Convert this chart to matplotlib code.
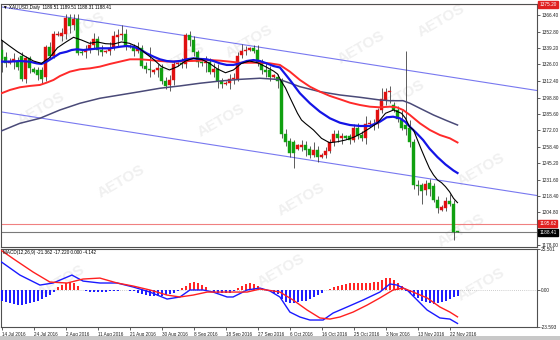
import matplotlib
matplotlib.use('Agg')
import matplotlib.pyplot as plt
import numpy as np

# ---------------- data ----------------
date_labels = ['14 Jul 2016', '24 Jul 2016', '2 Aug 2016', '11 Aug 2016', '21 Aug 2016',
               '30 Aug 2016', '8 Sep 2016', '18 Sep 2016', '27 Sep 2016', '6 Oct 2016',
               '16 Oct 2016', '25 Oct 2016', '3 Nov 2016', '13 Nov 2016', '22 Nov 2016']
label_bars = [0, 8, 16, 24, 32, 40, 48, 56, 64, 72, 80, 88, 96, 104, 112]

opens = [1338, 1332, 1327, 1329, 1329, 1333, 1314, 1331, 1322, 1321, 1321, 1316, 1340, 1333, 1350,
         1349, 1351, 1364, 1358, 1363, 1336, 1336, 1338, 1342, 1347, 1338, 1336, 1337, 1340, 1348,
         1350, 1351, 1341, 1340, 1337, 1339, 1325, 1322, 1320, 1321, 1323, 1312, 1309, 1313, 1326,
         1327, 1326, 1350, 1346, 1336, 1328, 1327, 1328, 1320, 1322, 1312, 1310, 1311, 1314, 1314,
         1334, 1337, 1338, 1339, 1338, 1327, 1321, 1321, 1316, 1316, 1313, 1269, 1263, 1262, 1257,
         1258, 1260, 1257, 1252, 1256, 1250, 1252, 1255, 1262, 1269, 1266, 1267, 1267, 1264, 1274,
         1268, 1266, 1277, 1276, 1277, 1289, 1297, 1303, 1293, 1289, 1280, 1276, 1274, 1262, 1227,
         1227, 1223, 1229, 1226, 1215, 1207, 1208, 1214, 1212, 1189.51]
highs = [1346, 1336, 1331, 1335, 1332, 1336, 1333, 1333, 1324, 1324, 1324, 1342, 1344, 1353, 1353,
         1356, 1367, 1367, 1367, 1367, 1338, 1342, 1345, 1352, 1349, 1342, 1338, 1344, 1353, 1355,
         1358, 1355, 1343, 1343, 1344, 1342, 1328, 1340, 1322, 1326, 1326, 1316, 1317, 1329, 1328,
         1331, 1352, 1353, 1349, 1338, 1329, 1333, 1331, 1327, 1326, 1315, 1312, 1318, 1319, 1336,
         1343, 1341, 1340, 1342, 1342, 1330, 1328, 1325, 1318, 1318, 1315, 1273, 1266, 1264, 1261,
         1264, 1263, 1259, 1262, 1259, 1253, 1258, 1265, 1272, 1272, 1270, 1268, 1269, 1277, 1278,
         1271, 1284, 1280, 1281, 1290, 1307, 1307, 1308, 1295, 1292, 1289, 1337, 1280, 1265, 1231,
         1229, 1231, 1232, 1229, 1218, 1211, 1217, 1220, 1215, 1189.51]
lows = [1320, 1324, 1326, 1322, 1321, 1312, 1311, 1319, 1319, 1313, 1310, 1312, 1330, 1331, 1349,
        1345, 1347, 1352, 1354, 1334, 1334, 1331, 1335, 1339, 1334, 1333, 1335, 1334, 1338, 1340,
        1346, 1338, 1339, 1333, 1335, 1323, 1319, 1316, 1318, 1316, 1310, 1306, 1304, 1309, 1325,
        1323, 1323, 1341, 1333, 1324, 1325, 1320, 1318, 1316, 1307, 1307, 1309, 1306, 1310, 1312,
        1331, 1334, 1337, 1335, 1325, 1318, 1316, 1312, 1315, 1307, 1266, 1259, 1250, 1241, 1256,
        1255, 1251, 1249, 1250, 1246, 1249, 1249, 1253, 1259, 1262, 1261, 1265, 1261, 1262, 1265,
        1263, 1261, 1275, 1272, 1274, 1286, 1293, 1294, 1287, 1279, 1272, 1268, 1258, 1224, 1219,
        1212, 1219, 1218, 1213, 1204, 1206, 1206, 1210, 1182, 1188.31]
closes = [1330, 1327, 1329, 1330, 1324, 1314, 1331, 1323, 1320, 1317, 1314, 1340, 1333, 1351, 1351,
          1352, 1364, 1357, 1363, 1335, 1335, 1338, 1342, 1347, 1338, 1336, 1337, 1339, 1349, 1350,
          1351, 1341, 1340, 1337, 1339, 1325, 1322, 1321, 1321, 1323, 1312, 1308, 1313, 1326, 1327,
          1326, 1350, 1346, 1336, 1328, 1327, 1328, 1320, 1322, 1312, 1310, 1311, 1314, 1315, 1333,
          1337, 1338, 1339, 1337, 1327, 1321, 1320, 1316, 1317, 1312, 1269, 1262, 1253, 1253, 1260,
          1260, 1256, 1252, 1256, 1250, 1252, 1255, 1262, 1269, 1266, 1267, 1266, 1264, 1274, 1267,
          1266, 1277, 1278, 1277, 1289, 1298, 1303, 1304, 1289, 1281, 1274, 1273, 1262, 1227, 1226,
          1222, 1228, 1224, 1215, 1208, 1209, 1214, 1212, 1188.6, 1188.41]

black_x = [0, 2, 4, 6, 8, 10, 12, 14, 16, 18, 20, 22, 24, 26, 28, 30, 32, 34, 36, 38, 40, 42, 44, 46,
           48, 50, 52, 54, 56, 58, 60, 62, 64, 66, 68, 69, 70, 71, 72, 73, 74, 75, 76, 77, 78, 80,
           82, 84, 86, 88, 90, 92, 94, 96, 98, 100, 101, 102, 103, 104, 105, 106, 107, 108, 109,
           110, 111, 112, 113, 114]
black_v = [1345.9, 1341.0, 1336.3, 1332.3, 1328.7, 1326.8, 1331.4, 1339.6, 1344.0, 1348.1, 1345.9,
           1343.2, 1344.3, 1342.9, 1342.6, 1344.3, 1343.2, 1340.4, 1335.0, 1330.1, 1324.1, 1321.4,
           1324.1, 1328.7, 1330.9, 1330.1, 1326.8, 1322.2, 1319.1, 1321.4, 1326.8, 1328.7, 1327.3,
           1324.1, 1320.5, 1318.1, 1311.8, 1306.6, 1299.5, 1292.7, 1285.9, 1280.4, 1277.5, 1274.9,
           1272.2, 1265.4, 1261.8, 1262.6, 1264.0, 1266.2, 1269.5, 1273.6, 1278.0, 1285.9, 1288.6,
           1285.9, 1281.8, 1274.9, 1272.2, 1264.0, 1255.9, 1248.2, 1240.8, 1235.4, 1231.3, 1229.1,
           1225.8, 1221.7, 1216.3, 1212.7]

blue_x = [0, 2, 4.6, 7, 8.8, 10, 11.3, 13, 14.6, 16.3, 17.5, 18.8, 20.5, 22.1, 24.6, 27.1, 29.6,
          31.3, 33, 34.6, 36.3, 38, 39.6, 41.3, 43, 44.6, 46.3, 48, 49.6, 51.3, 53, 54.6, 56.3, 58,
          59.6, 61.3, 63, 64.6, 66.3, 68, 69.6, 72.1, 74.6, 77.1, 79.6, 82.1, 84.6, 87.1, 89.6,
          92.1, 94.6, 96.3, 97.9, 99.6, 100.9, 102.1, 103.8, 105.4, 107, 109, 111, 113, 114]
blue_v = [1328.2, 1328.2, 1328.7, 1328.2, 1326.8, 1326.3, 1328.2, 1331.7, 1335.0, 1336.3, 1337.7,
          1338.3, 1337.7, 1338.3, 1339.1, 1339.1, 1340.4, 1341.0, 1340.4, 1338.3, 1335.0, 1332.3,
          1330.1, 1328.7, 1328.2, 1328.7, 1330.1, 1330.9, 1330.4, 1330.1, 1328.7, 1326.8, 1325.5,
          1325.5, 1326.8, 1328.7, 1329.5, 1328.7, 1326.8, 1324.6, 1323.4, 1313.2, 1302.3, 1294.1,
          1287.2, 1281.8, 1278.2, 1276.3, 1275.5, 1275.5, 1279.0, 1282.6, 1283.1, 1281.8, 1279.0,
          1274.9, 1269.5, 1264.0, 1257.0, 1250.0, 1244.0, 1239.0, 1237.0]

red_x = [0, 2.1, 4.6, 7.1, 9.6, 11.3, 13, 14.6, 17.1, 19.6, 22.1, 24.6, 27.1, 29.6, 32.1, 34.6,
         37.1, 39.6, 42.1, 44.6, 47.1, 49.6, 52.1, 54.6, 57.1, 59.6, 62.1, 64.6, 67.1, 69.6, 72.1,
         74.6, 77.1, 79.6, 82.1, 84.6, 87.1, 89.6, 92.1, 94.6, 97.1, 98.8, 100.4, 102.1, 104.6,
         107.1, 109.6, 112.1, 114]
red_v = [1302.3, 1305.0, 1307.2, 1308.3, 1309.1, 1311.0, 1313.2, 1316.4, 1320.0, 1321.9, 1322.7,
         1324.1, 1326.3, 1328.2, 1330.1, 1330.1, 1329.5, 1328.7, 1328.2, 1328.5, 1328.7, 1329.0,
         1329.5, 1329.0, 1328.2, 1327.3, 1327.3, 1327.3, 1326.8, 1325.5, 1320.0, 1313.2, 1307.7,
         1303.6, 1300.1, 1297.4, 1294.6, 1292.7, 1291.3, 1290.8, 1291.3, 1290.8, 1288.6, 1284.5,
         1277.7, 1272.2, 1268.1, 1265.4, 1262.0]

purple_x = [0, 4.6, 9.6, 14.6, 19.6, 24.6, 29.6, 34.6, 39.6, 44.6, 49.6, 54.6, 59.6, 64.6, 69.6,
            74.6, 79.6, 84.6, 89.6, 94.6, 97.1, 100.4, 102.1, 104.6, 108, 111.3, 114]
purple_v = [1271.5, 1277.7, 1281.8, 1288.6, 1294.1, 1298.2, 1300.9, 1303.6, 1306.4, 1308.3, 1310.5,
            1312.3, 1313.7, 1314.6, 1313.5, 1307.7, 1303.6, 1300.9, 1299.0, 1296.8, 1296.2, 1296.2,
            1294.1, 1290.0, 1284.5, 1279.9, 1276.3]

channel_bars = [0, 133]
channel_upper = [1373.0, 1305.0]
channel_lower = [1287.0, 1219.0]

level_red = 1195.62
level_last = 1188.41
level_top = 1375.20

price_ticks = [1366.40, 1352.80, 1339.20, 1326.00, 1312.40, 1298.80, 1285.60, 1272.00,
               1258.40, 1245.20, 1231.60, 1218.40, 1204.80, 1178.00]

macd_x = [0, 4.6, 9.6, 12.9, 17.6, 20.4, 24.6, 28.9, 32.9, 37.1, 41.4, 44.6, 47.1, 50.4, 52.9,
          56.4, 57.9, 61.4, 64.6, 67.1, 69.6, 72.1, 74.6, 77.1, 80.4, 82.9, 86.4, 90.4, 94.6, 97.1,
          98.9, 101.4, 103.9, 106.4, 109.6, 112.1, 114]
macd_v = [17.3, 9.1, 2.8, 4.1, 9.1, 5.3, 4.1, 4.1, 1.6, -1.6, -6.0, -4.7, -0.3, -0.3, -1.6, -4.7,
          -4.7, -0.3, 0.9, -0.9, -4.7, -14.2, -17.3, -19.2, -19.2, -14.8, -11.0, -6.6, -1.6, 3.5,
          2.8, -0.3, -6.6, -12.9, -17.9, -18.6, -21.362]
signal_x = [0, 3.4, 7.9, 12.1, 16.4, 20.4, 24.6, 28.9, 32.9, 37.1, 41.4, 44.6, 47.9, 51.4, 54.6,
            57.9, 61.4, 64.6, 67.9, 69.6, 72.9, 76.4, 79.6, 82.1, 84.6, 87.9, 91.4, 94.6, 97.9,
            100.4, 102.9, 106.4, 109.6, 112.1, 114]
signal_v = [24.5, 18.6, 11.0, 4.7, 4.1, 6.6, 7.2, 4.1, 2.2, -0.3, -3.5, -4.7, -3.5, -1.6, -1.6,
            -1.6, -1.6, 0.3, -0.9, -1.6, -6.6, -12.9, -17.9, -18.6, -17.3, -14.2, -9.8, -5.3, -0.3,
            0.9, -1.6, -5.3, -11.0, -14.2, -17.220]
hist = [-7.5, -8, -8.5, -9, -9.5, -9.5, -9, -8.5, -8, -7, -6, -5, -3.5, -1.5,
        1.5, 3, 4, 4.5, 4, 2.5,
        -0.5, -1, -1.5, -1.5, -1.5, -1.5, -1.5, -1, -1, -1, -0.5, -0.5, -1,
        -1, -2, -3, -3.5, -4, -4, -4, -4, -3.5, -3, -2, -1,
        1, 2.5, 4, 4.5, 4, 3, 1.5,
        -0.5, -1.5, -2, -2.5, -2.5, -2, -1,
        1, 2.5, 3.5, 4, 3.5, 2.5, 1,
        -0.5, -1, -2, -3, -6, -8, -8.5, -8.5, -8, -7.5, -7, -6, -5, -3.5, -2, -0.5,
        0.5, 1.5, 2.5, 3, 3.5, 4, 4, 4, 4, 4, 4, 4.5, 5, 6, 7, 7, 6, 4, 2.5,
        -1, -2.5, -4, -5.5, -7, -8, -8.5, -9, -8.5, -8, -7, -6, -5, -4.142]
macd_top, macd_bottom = 25.501, -23.593

# ---------------- figure ----------------
plt.rcParams['font.family'] = ['Liberation Sans', 'DejaVu Sans']
W, H = 560, 340
fig = plt.figure(figsize=(W / 100, H / 100), dpi=100)
fig.patch.set_facecolor('white')


def box(x0, y0, x1, y1):
    return [x0 / W, 1 - y1 / H, (x1 - x0) / W, (y1 - y0) / H]


ax = fig.add_axes(box(1, 4, 537, 247))
axm = fig.add_axes(box(1, 249, 537, 327))
bg = '#ffffff'
for a in (ax, axm):
    a.set_facecolor(bg)
    a.set_xlim(-0.125, 133.875)
    for s in a.spines.values():
        s.set_color('#505050')
        s.set_linewidth(0.8)

# watermarks
wm_pos = [(20, 1355), (62, 1345), (110, 1362), (10, 1290), (55, 1280), (100, 1300),
          (120, 1240), (30, 1230), (75, 1215), (115, 1190), (45, 1330), (90, 1340)]
for wx, wy in wm_pos:
    ax.text(wx, wy, 'AETOS', rotation=30, fontsize=11, fontweight='bold', color='#f0f0f0',
            ha='center', va='center', zorder=0.5)
for wx, wy in [(15, 5), (70, 12), (120, 3)]:
    axm.text(wx, wy, 'AETOS', rotation=30, fontsize=11, fontweight='bold', color='#f0f0f0',
             ha='center', va='center', zorder=0.5)

n = len(closes)
xs = np.arange(n)
o = np.array(opens, float)
c = np.array(closes, float)
hi = np.array(highs, float)
lo = np.array(lows, float)
up = c >= o
col = ['#e01010' if u else '#10a010' for u in up]

ax.vlines(xs, lo, hi, color='#303030', lw=0.55, zorder=3)
body = np.maximum(np.abs(c - o), 0.5)
ax.bar(xs, body, bottom=np.minimum(o, c), width=0.62, color=col, edgecolor=col,
       linewidth=0.3, zorder=4)

# channel lines (extended to the right edge)
slope_u = (channel_upper[1] - channel_upper[0]) / (channel_bars[1] - channel_bars[0])
slope_l = (channel_lower[1] - channel_lower[0]) / (channel_bars[1] - channel_bars[0])
xl = np.array([-0.125, 133.875])
ax.plot(xl, channel_upper[0] + slope_u * (xl - channel_bars[0]), color='#7878f0', lw=0.8, zorder=2)
ax.plot(xl, channel_lower[0] + slope_l * (xl - channel_bars[0]), color='#7878f0', lw=0.8, zorder=2)

ax.plot(purple_x, purple_v, color='#4a4a78', lw=1.1, zorder=5)
ax.plot(red_x, red_v, color='#ff2a2a', lw=1.4, zorder=5)
ax.plot(blue_x, blue_v, color='#1414e6', lw=1.6, zorder=6)
ax.plot(black_x, black_v, color='black', lw=0.8, zorder=7)

ax.axhline(level_red, color='#f08080', lw=0.8, zorder=2)
ax.axhline(level_last, color='#7a7a7a', lw=0.8, zorder=2)
ax.axhline(level_top, color='#f06060', lw=0.8, zorder=2)

ax.set_ylim(1176.4, 1375.4)
ax.yaxis.tick_right()
ax.set_yticks(price_ticks)
ax.set_yticklabels(['%.2f' % t for t in price_ticks])
ax.tick_params(axis='y', length=2, width=0.5, colors='#202020', labelsize=3.4, pad=1)
ax.tick_params(axis='x', length=0, labelbottom=False)

tr = ax.get_yaxis_transform()
for val, fc in [(level_red, '#e02020'), (level_last, '#000000'), (level_top, '#e02020')]:
    ax.text(1.004, val, '%.2f' % val, transform=tr, fontsize=3.4, color='white', ha='left',
            va='center', clip_on=False, zorder=10,
            bbox=dict(boxstyle='square,pad=0.25', fc=fc, ec=fc))

ax.text(0.004, 0.994, '\u25bc XAUUSD,Daily  1189.51 1189.51 1188.31 1188.41', transform=ax.transAxes,
        fontsize=3.3, color='black', ha='left', va='top', zorder=10)

# MACD panel
hv = np.array(hist, float)
hcol = ['#ff2020' if v >= 0 else '#1a1aff' for v in hv]
axm.axhline(0, color='#a0a0a0', lw=0.5, ls=(0, (1, 2)), zorder=1)
axm.vlines(np.arange(len(hv)), 0, hv, colors=hcol, lw=1.4, zorder=3)
axm.plot(macd_x, macd_v, color='#1a1aff', lw=1.0, zorder=4)
axm.plot(signal_x, signal_v, color='#ff2020', lw=1.0, zorder=4)
axm.set_ylim(macd_bottom, macd_top)
axm.yaxis.tick_right()
axm.set_yticks([macd_top, 0, macd_bottom])
axm.set_yticklabels(['25.501', '0.00', '-23.593'])
axm.tick_params(axis='y', length=2, width=0.5, colors='#202020', labelsize=3.4, pad=1)
axm.set_xticks(label_bars)
axm.set_xticklabels(date_labels)
axm.tick_params(axis='x', length=2, width=0.5, colors='#202020', labelsize=3.3, pad=1.5)
for lab in axm.get_xticklabels():
    lab.set_ha('left')
axm.text(0.004, 0.985, 'MACD(12,26,9) -21.362 -17.220 0.000 -4.142', transform=axm.transAxes,
         fontsize=3.3, color='black', ha='left', va='top', zorder=10)

# bottom strip
fig.patches.append(plt.Rectangle((0, 0), 1, 4 / H, transform=fig.transFigure,
                                 facecolor='#c8c8c8', edgecolor='none'))

fig.savefig('out.png', dpi=100)
